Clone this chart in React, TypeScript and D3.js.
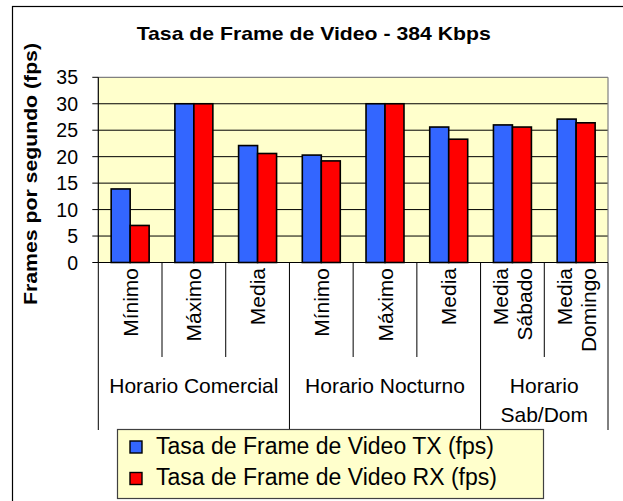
import React from "react";
import * as d3 from "d3";

const categories: string[][] = [
  ["Mínimo"], ["Máximo"], ["Media"],
  ["Mínimo"], ["Máximo"], ["Media"],
  ["Media", "Sábado"], ["Media", "Domingo"],
];
const groups: { label: string[]; span: number }[] = [
  { label: ["Horario Comercial"], span: 3 },
  { label: ["Horario Nocturno"], span: 3 },
  { label: ["Horario", "Sab/Dom"], span: 2 },
];
const txValues = [13.9, 30, 22.1, 20.3, 30, 25.6, 26.0, 27.1];
const rxValues = [7.0, 30, 20.6, 19.2, 30, 23.3, 25.6, 26.4];
const seriesNames = ["Tasa de Frame de Video TX (fps)", "Tasa de Frame de Video RX (fps)"];
const seriesColors = ["#3366FF", "#FF0000"];
const yTicks = [0, 5, 10, 15, 20, 25, 30, 35];
const title = "Tasa de Frame de Video - 384 Kbps";
const yTitle = "Frames por segundo (fps)";

export default function App() {
  const W = 623, H = 501;
  const left = 98.3, right = 608, top = 77.3, bottom = 262.5;
  const idx = categories.map((_, i) => i);
  const x = d3.scaleBand<number>().domain(idx).range([left, right]).paddingInner(0.404).paddingOuter(0.202);
  const step = (right - left) / categories.length;
  const xs = d3.scaleBand<number>().domain([0, 1]).range([0, x.bandwidth()]);
  const y = d3.scaleLinear().domain([0, 35]).range([bottom, top]);
  const series = [txValues, rxValues];
  const font = "'Liberation Sans', Arimo, Arial, sans-serif";

  const bounds: number[] = [0];
  groups.forEach((g) => bounds.push(bounds[bounds.length - 1] + g.span));

  return (
    <div style={{ position: "absolute", left: 0, top: 0 }}>
      <svg width={W} height={H} style={{ display: "block", fontFamily: font }}>
        <rect x={0} y={0} width={W} height={H} fill="#fff" />
        <rect x={12.5} y={6.5} width={W + 20} height={H + 20} fill="#fff" stroke="#000" strokeWidth={1.2} />
        <text x={136.7} y={40.3} fontSize={18.5} fontWeight="bold" textLength={354} lengthAdjust="spacingAndGlyphs">{title}</text>
        <text transform={`translate(37,174) rotate(-90)`} textAnchor="middle" fontSize={18} fontWeight="bold" textLength={262} lengthAdjust="spacingAndGlyphs">{yTitle}</text>
        <rect x={left} y={top} width={right - left} height={bottom - top} fill="#FFFFCC" />
        {yTicks.filter((t) => t > 0 && t < 35).map((t) => (
          <line key={t} x1={left} x2={right} y1={y(t)} y2={y(t)} stroke="#000" strokeWidth={1} />
        ))}
        <line x1={left} x2={right} y1={top} y2={top} stroke="#808080" strokeWidth={1.2} />
        <line x1={right} x2={right} y1={top} y2={bottom} stroke="#808080" strokeWidth={1.2} />
        {series.map((vals, s) =>
          vals.map((v, i) => (
            <rect key={`${s}-${i}`} x={(x(i) as number) + (xs(s) as number)} y={y(v)} width={xs.bandwidth()} height={bottom - y(v)}
              fill={seriesColors[s]} stroke="#000" strokeWidth={1.6} />
          ))
        )}
        <line x1={left} x2={left} y1={top} y2={bottom} stroke="#000" strokeWidth={1.2} />
        {yTicks.map((t) => (
          <g key={t}>
            <line x1={left - 6} x2={left} y1={y(t)} y2={y(t)} stroke="#000" strokeWidth={1} />
            <text x={78} y={y(t)} dy="0.36em" textAnchor="end" fontSize={19.5}>{t}</text>
          </g>
        ))}
        <line x1={left} x2={right} y1={bottom} y2={bottom} stroke="#000" strokeWidth={1.2} />
        {idx.map((i) => {
          const isGroupBound = bounds.includes(i);
          return (
            <line key={`t${i}`} x1={left + i * step} x2={left + i * step} y1={bottom} y2={isGroupBound ? 430 : 357} stroke="#000" strokeWidth={1} />
          );
        })}
        <line x1={right} x2={right} y1={bottom} y2={430} stroke="#000" strokeWidth={1} />
        {categories.map((lines, i) => {
          const cx = left + (i + 0.5) * step;
          return (
            <text key={`c${i}`} transform={`translate(${cx},268) rotate(-90)`} textAnchor="end" fontSize={21}>
              {lines.map((l, j) => (
                <tspan key={j} x={0} y={(j - (lines.length - 1) / 2) * 24} dy="0.36em">{l}</tspan>
              ))}
            </text>
          );
        })}
        {groups.map((g, gi) => {
          const cx = left + ((bounds[gi] + bounds[gi + 1]) / 2) * step;
          return (
            <text key={`g${gi}`} textAnchor="middle" fontSize={21}>
              {g.label.map((l, j) => (
                <tspan key={j} x={cx} y={393 + j * 29}>{l}</tspan>
              ))}
            </text>
          );
        })}
        <rect x={117.5} y={429.5} width={426} height={69} fill="#FFFFCC" stroke="#404040" strokeWidth={1.2} />
        {seriesNames.map((n, i) => (
          <g key={n}>
            <rect x={130} y={441 + i * 31.5} width={12} height={12} fill={seriesColors[i]} stroke="#000" strokeWidth={1.4} />
            <text x={156} y={453.5 + i * 31.5} fontSize={23}>{n}</text>
          </g>
        ))}
      </svg>
    </div>
  );
}
